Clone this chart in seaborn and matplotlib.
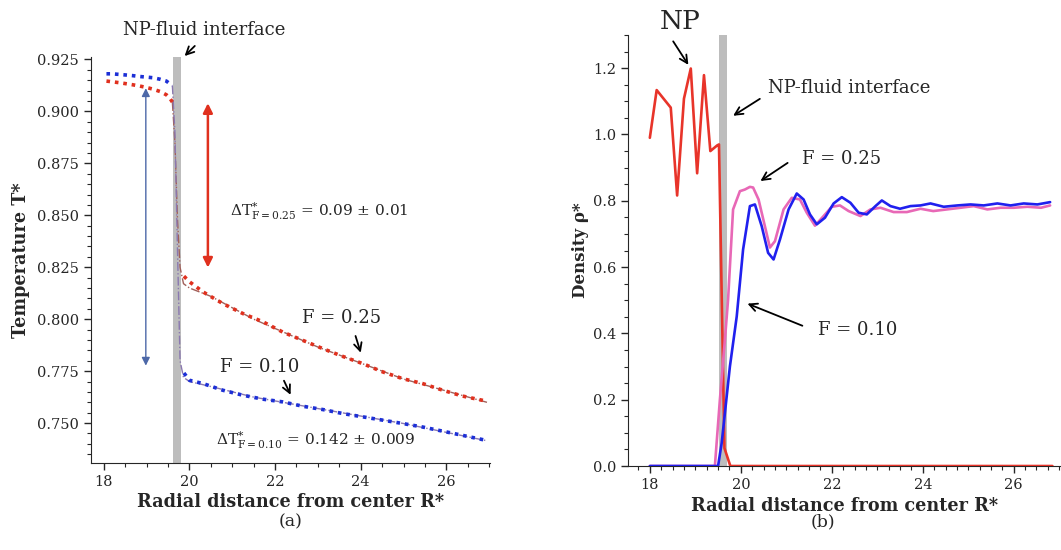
import numpy as np
import matplotlib
matplotlib.use("Agg")
import matplotlib.pyplot as plt
from matplotlib.ticker import MultipleLocator
import seaborn as sns

sns.set_style("ticks")
plt.rcParams["font.family"] = ["DejaVu Serif"]
plt.rcParams["mathtext.fontset"] = "dejavuserif"

# ---------------- (a) temperature profiles ----------------
# inside the nanoparticle
R_core = [18.06, 18.18, 18.37, 18.53, 18.68, 18.84, 19.00, 19.15, 19.31, 19.46, 19.54, 19.60]
T10_core = [0.9181, 0.9181, 0.9178, 0.9175, 0.9172, 0.9168, 0.9165, 0.9162, 0.9155, 0.9146, 0.9133, 0.9125]
T25_core = [0.9146, 0.9143, 0.9138, 0.9133, 0.9128, 0.9122, 0.9115, 0.9107, 0.9096, 0.9080, 0.9064, 0.9045]

# in the fluid
R_shell = [19.87, 20.00, 20.32, 20.78, 21.25, 21.72, 22.18, 22.65, 23.12, 23.58,
           24.05, 24.52, 24.98, 25.45, 25.92, 26.38, 26.93]
T10_shell = [0.7741, 0.7706, 0.7690, 0.7658, 0.7634, 0.7615, 0.7602, 0.7581, 0.7565, 0.7546,
             0.7530, 0.7514, 0.7498, 0.7481, 0.7461, 0.7441, 0.7417]
T25_shell = [0.8207, 0.8180, 0.8131, 0.8075, 0.8027, 0.7987, 0.7938, 0.7898, 0.7858, 0.7821,
             0.7786, 0.7746, 0.7714, 0.7690, 0.7658, 0.7630, 0.7606]

# fitted profiles across the interface
R_fit = [19.60, 19.66, 19.72, 19.78, 19.86, 20.00, 20.50, 21.50, 23.00, 25.00, 26.95]
T10_fit = [0.9125, 0.8900, 0.8330, 0.7800, 0.7720, 0.7700, 0.7676, 0.7625, 0.7570, 0.7498, 0.7415]
T25_fit = [0.9045, 0.8850, 0.8480, 0.8250, 0.8171, 0.8150, 0.8110, 0.8000, 0.7866, 0.7712, 0.7600]

# ---------------- (b) density profiles ----------------
R_np = [18.00, 18.15, 18.46, 18.60, 18.75, 18.90, 19.04, 19.19, 19.33, 19.48, 19.52, 19.64,
        19.77, 21.00, 23.00, 25.00, 26.85]
rho_np = [0.990, 1.134, 1.081, 0.816, 1.108, 1.199, 0.883, 1.179, 0.950, 0.967, 0.970, 0.054,
          0.0, 0.0, 0.0, 0.0, 0.0]

R_f25 = [18.00, 19.00, 19.43, 19.54, 19.65, 19.72, 19.83, 19.98, 20.09, 20.20, 20.27, 20.39,
         20.53, 20.64, 20.75, 20.94, 21.12, 21.30, 21.45, 21.63, 21.82, 22.00, 22.18, 22.37,
         22.63, 22.85, 23.07, 23.36, 23.65, 23.95, 24.23, 24.53, 24.83, 25.12, 25.42, 25.71,
         26.00, 26.30, 26.60, 26.80]
rho_f25 = [0.0, 0.0, 0.0, 0.20, 0.38, 0.502, 0.774, 0.829, 0.834, 0.842, 0.840, 0.804,
           0.723, 0.659, 0.678, 0.774, 0.809, 0.804, 0.764, 0.725, 0.754, 0.782, 0.786, 0.769,
           0.754, 0.774, 0.779, 0.766, 0.766, 0.776, 0.769, 0.774, 0.779, 0.784, 0.774, 0.779,
           0.779, 0.782, 0.779, 0.786]

R_f10 = [18.00, 19.00, 19.50, 19.58, 19.76, 19.91, 20.05, 20.20, 20.31, 20.46, 20.60, 20.72,
         20.86, 21.05, 21.23, 21.38, 21.52, 21.67, 21.85, 22.04, 22.22, 22.41, 22.59, 22.77,
         22.96, 23.10, 23.29, 23.50, 23.73, 23.95, 24.17, 24.46, 24.76, 25.05, 25.34, 25.64,
         25.93, 26.22, 26.52, 26.80]
rho_f10 = [0.0, 0.0, 0.0, 0.07, 0.30, 0.451, 0.653, 0.784, 0.789, 0.723, 0.643, 0.623,
           0.683, 0.774, 0.822, 0.804, 0.759, 0.729, 0.749, 0.792, 0.811, 0.794, 0.764, 0.759,
           0.784, 0.801, 0.784, 0.776, 0.784, 0.786, 0.792, 0.782, 0.786, 0.789, 0.786, 0.792,
           0.786, 0.792, 0.789, 0.796]

RED = "#e0301e"
BLUE = "#1c2fd6"
PINK = "#e868b6"
NPRED = "#e8342a"
VBLUE = "#2020ee"
GREY = "#bdbdbd"

fig = plt.figure(figsize=(10.61, 5.50), dpi=100)
axA = fig.add_axes([0.0858, 0.1582, 0.3760, 0.7382])
axB = fig.add_axes([0.5919, 0.1527, 0.4090, 0.7836])

# ---- panel (a)
axA.axvspan(19.62, 19.80, color=GREY, lw=0, zorder=1)
fit_kw = dict(lw=1.0, linestyle="-.", estimator=None, sort=False, legend=False, zorder=2)
sns.lineplot(x=R_fit, y=T25_fit, ax=axA, color="#a0605a", **fit_kw)
sns.lineplot(x=R_fit, y=T10_fit, ax=axA, color="#8a78b0", **fit_kw)
dot_kw = dict(lw=2.6, dashes=(1.0, 1.35), estimator=None, sort=False, legend=False, zorder=3)
for R, T10, T25 in [(R_core, T10_core, T25_core), (R_shell, T10_shell, T25_shell)]:
    sns.lineplot(x=R, y=T25, ax=axA, color=RED, **dot_kw)
    sns.lineplot(x=R, y=T10, ax=axA, color=BLUE, **dot_kw)

axA.set_xlim(17.70, 27.02)
axA.set_ylim(0.7308, 0.9262)
axA.xaxis.set_major_locator(MultipleLocator(2))
axA.xaxis.set_minor_locator(MultipleLocator(0.5))
axA.yaxis.set_major_locator(MultipleLocator(0.025))
axA.yaxis.set_minor_locator(MultipleLocator(0.005))
axA.yaxis.set_major_formatter(matplotlib.ticker.FormatStrFormatter("%.3f"))
axA.tick_params(labelsize=10.5, length=5, width=1)
axA.tick_params(which="minor", length=3, width=0.8)
sns.despine(ax=axA)
axA.set_xlabel("Radial distance from center R*", fontsize=12.7, fontweight="bold", labelpad=3)
axA.set_ylabel("Temperature T*", fontsize=12.7, fontweight="bold", labelpad=5)

arrow_k = dict(arrowstyle="->", color="black", lw=1.3, mutation_scale=14)
axA.annotate("NP-fluid interface", xy=(19.84, 0.9975), xytext=(18.44, 1.066),
             xycoords=("data", "axes fraction"), textcoords=("data", "axes fraction"),
             fontsize=13, va="center", annotation_clip=False)
axA.annotate("", xy=(19.84, 0.9975), xytext=(20.17, 1.032),
             xycoords=("data", "axes fraction"), textcoords=("data", "axes fraction"),
             arrowprops=arrow_k, annotation_clip=False)
axA.annotate("", xy=(18.98, 0.9125), xytext=(18.98, 0.7763),
             arrowprops=dict(arrowstyle="<|-|>", color="#4d68a8", lw=1.0, mutation_scale=12))
axA.annotate("", xy=(20.43, 0.9053), xytext=(20.43, 0.8235),
             arrowprops=dict(arrowstyle="<|-|>", color=RED, lw=1.8, mutation_scale=14))
axA.text(20.94, 0.8519, r"$\Delta\mathrm{T}^{*}_{\mathrm{F=0.25}}$ = 0.09 $\pm$ 0.01",
         fontsize=11, va="center")
axA.text(20.61, 0.7417, r"$\Delta\mathrm{T}^{*}_{\mathrm{F=0.10}}$ = 0.142 $\pm$ 0.009",
         fontsize=11, va="center")
axA.text(22.64, 0.8004, "F = 0.25", fontsize=13, va="center")
axA.annotate("", xy=(24.02, 0.7826), xytext=(23.86, 0.7932), arrowprops=arrow_k)
axA.text(20.71, 0.7769, "F = 0.10", fontsize=13, va="center")
axA.annotate("", xy=(22.39, 0.7624), xytext=(22.18, 0.7716), arrowprops=arrow_k)

# ---- panel (b)
axB.axvspan(19.52, 19.70, color=GREY, lw=0, zorder=1)
line_kw = dict(lw=1.9, estimator=None, sort=False, legend=False, zorder=3)
sns.lineplot(x=R_np, y=rho_np, ax=axB, color=NPRED, **line_kw)
sns.lineplot(x=R_f25, y=rho_f25, ax=axB, color=PINK, **line_kw)
sns.lineplot(x=R_f10, y=rho_f10, ax=axB, color=VBLUE, **line_kw)

axB.set_xlim(17.52, 27.06)
axB.set_ylim(0.0, 1.30)
axB.xaxis.set_major_locator(MultipleLocator(2))
axB.xaxis.set_minor_locator(MultipleLocator(0.25))
axB.yaxis.set_major_locator(MultipleLocator(0.2))
axB.yaxis.set_minor_locator(MultipleLocator(0.05))
axB.yaxis.set_major_formatter(matplotlib.ticker.FormatStrFormatter("%.1f"))
axB.tick_params(labelsize=10.5, length=5, width=1)
axB.tick_params(which="minor", length=3, width=0.8)
sns.despine(ax=axB)
axB.set_xlabel("Radial distance from center R*", fontsize=12.7, fontweight="bold", labelpad=4)
axB.set_ylabel("Density ρ*", fontsize=12, fontweight="bold", labelpad=3)

axB.text(18.22, 1.342, "NP", fontsize=19, va="center", clip_on=False)
axB.annotate("", xy=(18.88, 1.203), xytext=(18.48, 1.288), arrowprops=arrow_k,
             annotation_clip=False)
axB.text(20.60, 1.140, "NP-fluid interface", fontsize=13, va="center")
axB.annotate("", xy=(19.78, 1.052), xytext=(20.47, 1.112), arrowprops=arrow_k)
axB.text(21.35, 0.925, "F = 0.25", fontsize=13, va="center")
axB.annotate("", xy=(20.38, 0.855), xytext=(21.08, 0.919), arrowprops=arrow_k)
axB.text(21.70, 0.411, "F = 0.10", fontsize=13, va="center")
axB.annotate("", xy=(20.09, 0.493), xytext=(21.41, 0.420), arrowprops=arrow_k)

fig.text(291 / 1061, 1 - 522 / 550, "(a)", fontsize=12.5, ha="center", va="center")
fig.text(823 / 1061, 1 - 522 / 550, "(b)", fontsize=12.5, ha="center", va="center")

fig.savefig("out.png", dpi=100)
